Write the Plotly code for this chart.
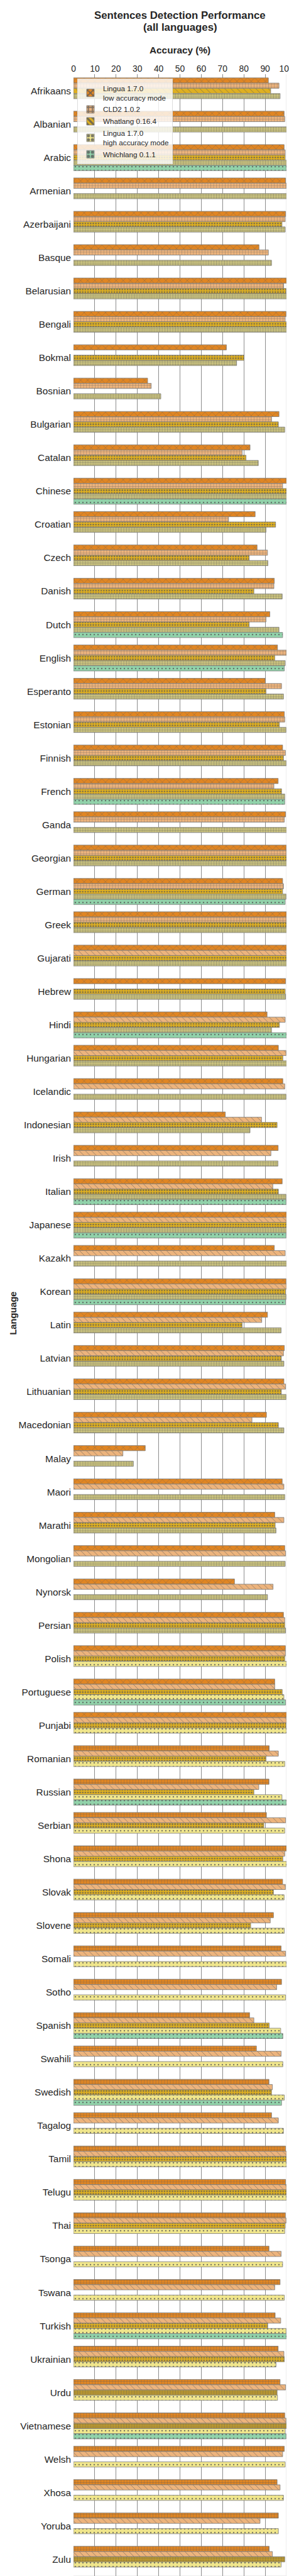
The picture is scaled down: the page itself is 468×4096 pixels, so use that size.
import plotly.graph_objects as go

languages = ["Afrikaans", "Albanian", "Arabic", "Armenian", "Azerbaijani", "Basque", "Belarusian",
             "Bengali", "Bokmal", "Bosnian", "Bulgarian", "Catalan", "Chinese", "Croatian", "Czech",
             "Danish", "Dutch", "English", "Esperanto", "Estonian", "Finnish", "French", "Ganda",
             "Georgian", "German", "Greek", "Gujarati", "Hebrew", "Hindi", "Hungarian", "Icelandic",
             "Indonesian", "Irish", "Italian", "Japanese", "Kazakh", "Korean", "Latin", "Latvian",
             "Lithuanian", "Macedonian", "Malay", "Maori", "Marathi", "Mongolian", "Nynorsk",
             "Persian", "Polish", "Portuguese", "Punjabi", "Romanian", "Russian", "Serbian", "Shona",
             "Slovak", "Slovene", "Somali", "Sotho", "Spanish", "Swahili", "Swedish", "Tagalog",
             "Tamil", "Telugu", "Thai", "Tsonga", "Tswana", "Turkish", "Ukrainian", "Urdu",
             "Vietnamese", "Welsh", "Xhosa", "Yoruba", "Zulu"]

N = None
lingua_low = [91.5, 98.9, 98.9, 99.6, 99.6, 87.1, 100, 99.8, 71.8, 34.8, 96.5, 82.9, 100, 85.3, 86.2,
              94.3, 92.2, 95.8, 90.0, 99.0, 98.2, 96.1, 99.6, 99.9, 98.2, 100, 100, 99.6, 90.9, 96.2,
              98.3, 71.3, 96.1, 98.0, 100, 94.3, 99.8, 91.1, 99.0, 98.8, 90.6, 33.7, 98.0, 94.5, 99.2,
              75.6, 98.6, 99.5, 94.5, 100, 91.9, 91.8, 90.6, 100, 98.2, 93.9, 97.5, 97.7, 82.7, 85.9,
              91.8, 93.0, 99.6, 99.6, 99.5, 91.8, 97.0, 94.7, 96.1, 97.0, 99.2, 99.0, 95.6, 96.2, 91.9]
cld2 = [96.5, 99.2, 99.4, 100, 99.4, 91.5, 98.7, 99.4, N, 36.5, 93.0, 79.2, 98.2, 72.8, 91.1,
        94.1, 90.4, 100, 97.7, 99.2, 99.5, 94.1, 99.0, 100, 98.6, 100, 100, N, 99.4, 99.8,
        99.2, 88.3, 92.7, 93.6, 100, 99.4, 100, 88.4, 98.6, 99.6, 83.8, 23.2, 98.8, 98.8, 99.6,
        93.7, 99.2, 99.5, 94.5, 100, 96.2, 87.0, 99.6, 99.2, 99.5, 92.4, 99.6, 95.4, 84.7, 97.5,
        93.4, 96.2, 100, 100, 99.8, 97.5, 94.5, 97.3, 98.8, 99.6, 99.8, 98.2, 97.0, 87.6, 93.4]
whatlang = [92.6, N, 99.4, N, 97.9, N, 99.8, 100, 80.1, N, 96.2, 81.0, 100, 94.9, 82.5,
            84.7, 82.5, 94.5, 90.4, 96.7, 98.6, 97.7, N, 100, 98.2, 100, 100, 99.4, 96.7, 98.3,
            N, 95.6, N, 96.2, 100, N, 99.6, 79.2, 97.6, 97.6, 96.2, N, N, 94.7, N,
            N, 99.2, 99.2, 98.0, 99.8, 90.4, 84.7, 89.4, 98.3, 93.9, 83.2, N, N, 91.9, N,
            93.0, N, 100, 100, 99.4, N, N, 91.2, 99.0, 95.6, 100, N, N, N, 99.2]
lingua_high = [97.0, 100, 100, 100, 99.4, 93.0, 100, 100, 76.6, 41.0, 99.2, 86.8, 100, 90.4, 91.3,
               98.0, 96.5, 99.4, 98.6, 99.8, 99.9, 99.2, 100, 100, 99.8, 100, 100, 99.6, 93.0, 100,
               99.8, 82.9, 96.0, 99.8, 100, 100, 99.8, 97.5, 98.8, 99.8, 98.8, 28.1, 99.2, 95.1, 99.4,
               91.1, 99.6, 100, 98.8, 100, 99.2, 97.9, 99.2, 100, 98.9, 99.0, 100, 99.6, 97.3, 98.3,
               99.0, 98.6, 100, 100, 99.2, 98.2, 99.0, 99.8, 95.1, 95.8, 99.4, 99.4, 98.6, 96.2, 97.5]
whichlang = [N, N, 100, N, N, N, N, N, N, N, N, N, 100, N, N,
             N, 98.2, 99.0, N, N, N, 99.2, N, N, 99.4, N, N, N, 100, N,
             N, N, N, 99.8, 99.8, N, 99.6, N, N, N, N, N, N, N, N,
             N, N, N, 99.6, N, N, 100, N, N, N, N, N, N, 98.3, N,
             97.7, N, N, N, N, N, N, 100, N, N, 99.8, N, N, N, N]

series_names = ["Lingua 1.7.0<br>low accuracy mode", "CLD2 1.0.2", "Whatlang 0.16.4",
                "Lingua 1.7.0<br>high accuracy mode", "Whichlang 0.1.1"]
series_values = [lingua_low, cld2, whatlang, lingua_high, whichlang]

# ---- styles ----
S = 0.731
colors = ["#E08624", "#EDB47D", "#DFB022", "#F0E68C", "#91D2AA"]
hatch_styles = {
    "x": dict(shape="x", size=8, solidity=0.1),
    "+": dict(shape="+", size=4.6, solidity=0.16),
    "\\": dict(shape="\\", size=7, solidity=0.1),
    "o": dict(shape=".", size=4.2, solidity=0.3),
    "dense": dict(shape=".", size=2.6, solidity=0.45),
    "sparse": dict(shape=".", size=6, solidity=0.12),
}
# hatch runs per series: (first category index, hatch)
hatch_runs = [
    [(0, "x"), (50, "+")],
    [(0, "+"), (26, "\\")],
    [(0, "\\"), (1, "o"), (69, "dense")],
    [(0, "dense"), (47, "sparse")],
    [(0, "sparse")],
]

def hatch_list(runs):
    out = []
    for i in range(len(languages)):
        h = runs[0][1]
        for start, hh in runs:
            if i >= start:
                h = hh
        out.append(h)
    return out

fig = go.Figure()
for name, vals, col, runs in zip(series_names, series_values, colors, hatch_runs):
    hs = hatch_list(runs)
    fig.add_trace(go.Bar(
        y=languages, x=vals, name=name, orientation="h",
        marker=dict(
            color=col,
            line=dict(color="#7a7a7a", width=0.8),
            pattern=dict(
                shape=[hatch_styles[h]["shape"] for h in hs],
                size=[hatch_styles[h]["size"] for h in hs],
                solidity=[hatch_styles[h]["solidity"] for h in hs],
                fgcolor="#555555", fgopacity=0.75, fillmode="overlay",
            ),
        ),
    ))

FONT = "Liberation Sans, Arial, sans-serif"
W, H = 468, 4096
ml, mr, mt, mb = 109, 18, 110, 8
pw = W - ml - mr

fig.update_layout(
    width=W, height=H,
    margin=dict(l=ml, r=mr, t=mt, b=mb),
    barmode="group", bargap=0.22, bargroupgap=0,
    plot_bgcolor="white", paper_bgcolor="white",
    font=dict(family=FONT, color="#262626"),
    showlegend=True,
    legend=dict(
        x=(115 - ml) / pw, y=1 - (117 - mt) / (H - mt - mb), xanchor="left", yanchor="top",
        bgcolor="rgba(255,255,255,0.8)", bordercolor="#dddddd", borderwidth=1,
        font=dict(size=11.7, family=FONT, color="#262626"), traceorder="normal",
        tracegroupgap=2, itemwidth=30,
    ),
    xaxis=dict(
        range=[0, 100], side="top", tickmode="array", tickvals=list(range(0, 101, 10)),
        showgrid=True, gridcolor="#8c8c8c", gridwidth=0.8, zeroline=False,
        showline=False, ticks="", tickfont=dict(size=19 * S, family=FONT, color="#262626"),
        fixedrange=True,
    ),
    yaxis=dict(
        autorange=False, range=[74.5, -0.5], showgrid=False, zeroline=False,
        ticks="", tickfont=dict(size=21 * S, family=FONT, color="#262626"),
        ticklabelstandoff=3, showline=False,
    ),
)

# light right / bottom frame lines
fig.add_shape(type="line", xref="x", yref="paper", x0=100, x1=100, y0=0, y1=1,
              line=dict(color="#dcdcdc", width=1), layer="below")
fig.add_shape(type="line", xref="paper", yref="paper", x0=0, x1=1, y0=0, y1=0,
              line=dict(color="#dcdcdc", width=1), layer="below")

# titles as annotations
ann = [
    dict(text="<b>Sentences Detection Performance</b>", y_px=16.0, x_px=ml + pw / 2, size=23 * S, angle=0),
    dict(text="<b>(all languages)</b>", y_px=35.3, x_px=ml + pw / 2, size=23 * S, angle=0),
    dict(text="<b>Accuracy (%)</b>", y_px=71.0, x_px=ml + pw / 2, size=21 * S, angle=0),
    dict(text="<b>Language</b>", y_px=2080, x_px=12, size=20 * S, angle=-90),
]
for a in ann:
    fig.add_annotation(
        text=a["text"], xref="paper", yref="paper",
        x=(a["x_px"] - ml) / pw, y=1 - (a["y_px"] - mt) / (H - mt - mb),
        xanchor="center", yanchor="middle", showarrow=False, textangle=a["angle"],
        font=dict(size=a["size"], family=FONT, color="#262626"),
    )

fig.write_html("out.html")
